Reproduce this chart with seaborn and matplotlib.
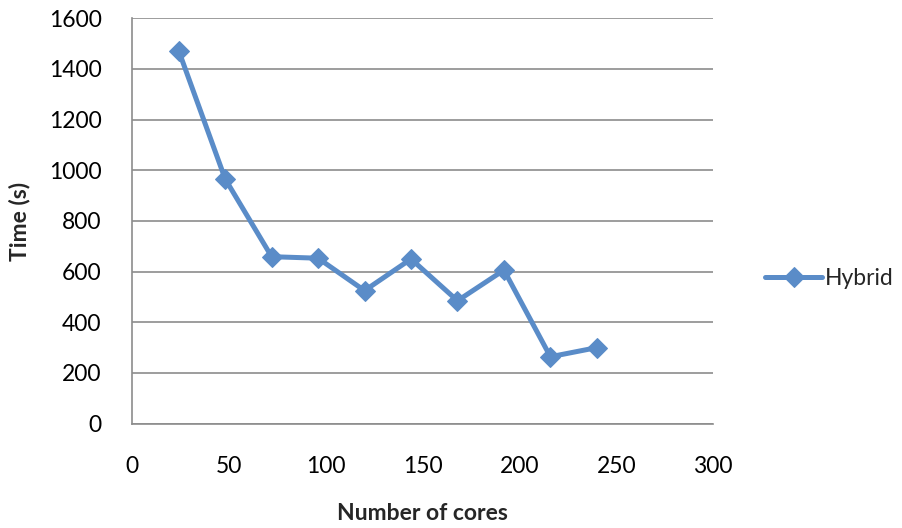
import matplotlib
matplotlib.use("Agg")
import matplotlib.pyplot as plt
import seaborn as sns
import pandas as pd

# Runtime measurements for the hybrid implementation
cores = [24, 48, 72, 96, 120, 144, 168, 192, 216, 240]
time_s = [1472, 966, 659, 653, 525, 650, 485, 606, 264, 300]
series_name = "Hybrid"

x_ticks = [0, 50, 100, 150, 200, 250, 300]
y_ticks = [0, 200, 400, 600, 800, 1000, 1200, 1400, 1600]

df = pd.DataFrame({"cores": cores, "time": time_s, "series": series_name})

sns.set_style("white")
plt.rcParams["font.family"] = ["Lato", "DejaVu Sans"]

line_color = "#5A8CC8"
grid_color = "#8C8C8C"
fs = 16.5

fig = plt.figure(figsize=(9.02, 5.28), dpi=100)
ax = fig.add_axes([0.1466, 0.1977, 0.6439, 0.7676])

sns.lineplot(data=df, x="cores", y="time", hue="series", palette=[line_color],
             marker="D", markersize=10, markeredgecolor=line_color,
             linewidth=3.6, ax=ax, legend=True)

ax.set_xlim(0, 300)
ax.set_ylim(0, 1600)
ax.set_xticks(x_ticks)
ax.set_yticks(y_ticks)
ax.set_xticklabels([str(v) for v in x_ticks])
ax.set_yticklabels([str(v) for v in y_ticks])

ax.yaxis.grid(True, color=grid_color, linewidth=1.2)
ax.xaxis.grid(False)
ax.set_axisbelow(True)

for side in ("top", "right"):
    ax.spines[side].set_visible(False)
for side in ("left", "bottom"):
    ax.spines[side].set_color(grid_color)
    ax.spines[side].set_linewidth(1.2)

ax.tick_params(axis="both", which="major", direction="out", length=5,
               width=1.2, color=grid_color, labelsize=fs, labelcolor="black")
ax.tick_params(axis="y", pad=17)
ax.tick_params(axis="x", pad=18)

ax.set_xlabel("Number of cores", fontsize=fs, fontweight="bold")
ax.set_ylabel("Time (s)", fontsize=fs, fontweight="bold")
ax.xaxis.set_label_coords(0.5, -0.2215)
ax.yaxis.set_label_coords(-0.1935, 0.5)
ax.xaxis.label.set_va("center")
ax.yaxis.label.set_va("center")

leg = ax.legend(loc="center left", bbox_to_anchor=(0.8480, 0.4716),
                bbox_transform=fig.transFigure, frameon=False,
                fontsize=fs, handlelength=2.5, handletextpad=0.1,
                borderpad=0, borderaxespad=0)

fig.savefig("out.png", dpi=100)
